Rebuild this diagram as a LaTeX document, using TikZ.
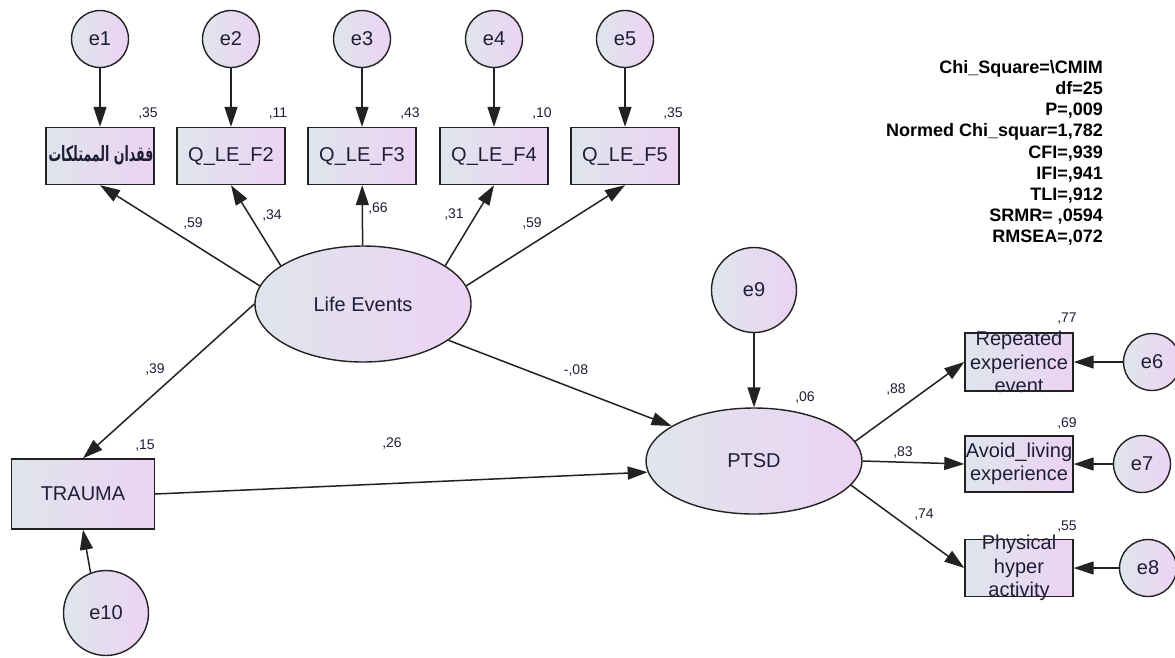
\documentclass[tikz,border=0pt]{standalone}
\usepackage{graphicx}
\usepackage{fontspec}
\setmainfont{Liberation Sans}
\newfontfamily\arabicfont[Script=Arabic]{DejaVu Sans}
\TeXXeTstate=1
\usetikzlibrary{arrows.meta,shapes.geometric}
\definecolor{fillA}{HTML}{DFE5EC}
\definecolor{fillB}{HTML}{ECD3F3}
\definecolor{txt}{HTML}{1E1E36}
\definecolor{edge}{HTML}{222222}
\begin{document}
\begin{tikzpicture}[x=1pt,y=-1pt,
  shadefill/.style={left color=fillA,right color=fillB,draw=edge,line width=1.4pt},
  err/.style={shadefill,circle,minimum size=57pt,inner sep=0pt,font=\fontsize{20}{24}\selectfont,text=txt},
  bigerr/.style={err,minimum size=85pt},
  obs/.style={shadefill,rectangle,minimum width=108pt,minimum height=57pt,inner sep=0pt,font=\fontsize{20}{24}\selectfont,text=txt},
  lat/.style={shadefill,ellipse,inner sep=0pt,font=\fontsize{20}{24}\selectfont,text=txt},
  num/.style={font=\fontsize{14}{16}\selectfont,text=txt,inner sep=0pt},
  conn/.style={draw=edge,line width=1.5pt,-{Triangle[length=20pt,width=13pt]}},
  boxtext/.style={font=\fontsize{20}{23.5}\selectfont,align=center,text=txt,inner sep=0pt}
]
\fill[white] (0,0) rectangle (1175,657);
\useasboundingbox (0,0) rectangle (1175,657);

% error terms top
\node[err] (e1) at (100,39) {e1};
\node[err] (e2) at (231,39) {e2};
\node[err] (e3) at (362,39) {e3};
\node[err] (e4) at (494,39) {e4};
\node[err] (e5) at (625,39) {e5};

% observed boxes top
\node[obs] (b1) at (100,156) {};
\node[boxtext] (b1t) at (101,155) {\resizebox{105pt}{16pt}{\arabicfont\bfseries\beginR فقدان الممتلكات\endR}};
\node[obs] (b2) at (231,156) {Q\_LE\_F2};
\node[obs] (b3) at (362,156) {Q\_LE\_F3};
\node[obs] (b4) at (494,156) {Q\_LE\_F4};
\node[obs] (b5) at (625,156) {Q\_LE\_F5};

% latent
\node[lat,minimum width=216pt,minimum height=116pt] (LE) at (363,304) {Life Events};
\node[lat,minimum width=216pt,minimum height=106pt] (PT) at (754,461) {PTSD};

% trauma
\node[obs,minimum width=143pt,minimum height=70pt] (T) at (83,494) {TRAUMA};
\node[bigerr] (e10) at (106,613) {e10};
\node[bigerr] (e9) at (754,290) {e9};

% right boxes
\node[obs,minimum height=58pt] (R1) at (1019,362) {};
\node[boxtext] (R1t) at (1019,362) {Repeated\\experience\\event};
\node[obs,minimum height=56pt] (R2) at (1019,464) {};
\node[boxtext] (R2t) at (1019,464) {Avoid\_living\\experience};
\node[obs] (R3) at (1019,568) {};
\node[boxtext] (R3t) at (1019,568) {Physical\\hyper\\activity};

\node[err] (e6) at (1152,362) {e6};
\node[err] (e7) at (1142,464) {e7};
\node[err] (e8) at (1148,568) {e8};

% numbers
\node[num] (v1) at (148,114) {,35};
\node[num] (v2) at (278,114) {,11};
\node[num] (v3) at (410,114) {,43};
\node[num] (v4) at (542,114) {,10};
\node[num] (v5) at (673,114) {,35};
\node[num] (w1) at (193,223) {,59};
\node[num] (w2) at (272,215) {,34};
\node[num] (w3) at (378,208) {,66};
\node[num] (w4) at (454,214) {,31};
\node[num] (w5) at (532,223) {,59};
\node[num] (w6) at (155,369) {,39};
\node[num] (vT) at (145,446) {,15};
\node[num] (w7) at (576,370) {-,08};
\node[num] (w8) at (392,443) {,26};
\node[num] (vP) at (805,397) {,06};
\node[num] (w9) at (896,389) {,88};
\node[num] (w10) at (903,452) {,83};
\node[num] (w11) at (924,515) {,74};
\node[num] (vR1) at (1067,319) {,77};
\node[num] (vR2) at (1067,423) {,69};
\node[num] (vR3) at (1067,527) {,55};

% fit statistics
\node[anchor=north east,align=right,inner sep=0pt,font=\fontsize{18}{21.2}\selectfont\bfseries] (fit) at (1103,60)
 {Chi\_Square=\textbackslash CMIM\\df=25\\P=,009\\Normed Chi\_squar=1,782\\CFI=,939\\IFI=,941\\TLI=,912\\SRMR= ,0594\\RMSEA=,072};

% connectors
\draw[conn] (e1) -- (b1);
\draw[conn] (e2) -- (b2);
\draw[conn] (e3) -- (b3);
\draw[conn] (e4) -- (b4);
\draw[conn] (e5) -- (b5);
\draw[conn] (LE.170) -- (b1.south);
\draw[conn] (LE.155) -- (b2.south);
\draw[conn] (LE) -- (b3);
\draw[conn] (LE.25) -- (b4.south);
\draw[conn] (LE.10) -- (b5.south);
\draw[conn] (LE.west) -- (T.north);
\draw[conn] (LE.-23) -- (PT.157);
\draw[conn] (T.east) -- (PT.186);
\draw[conn] (e9) -- (PT);
\draw[conn] (e10.111) -- (T.south);
\draw[conn] (PT.11) -- (R1.west);
\draw[conn] (PT.east) -- (R2.west);
\draw[conn] (PT.-14) -- (R3.west);
\draw[conn] (e6) -- (R1);
\draw[conn] (e7) -- (R2);
\draw[conn] (e8) -- (R3);
\end{tikzpicture}
\end{document}
